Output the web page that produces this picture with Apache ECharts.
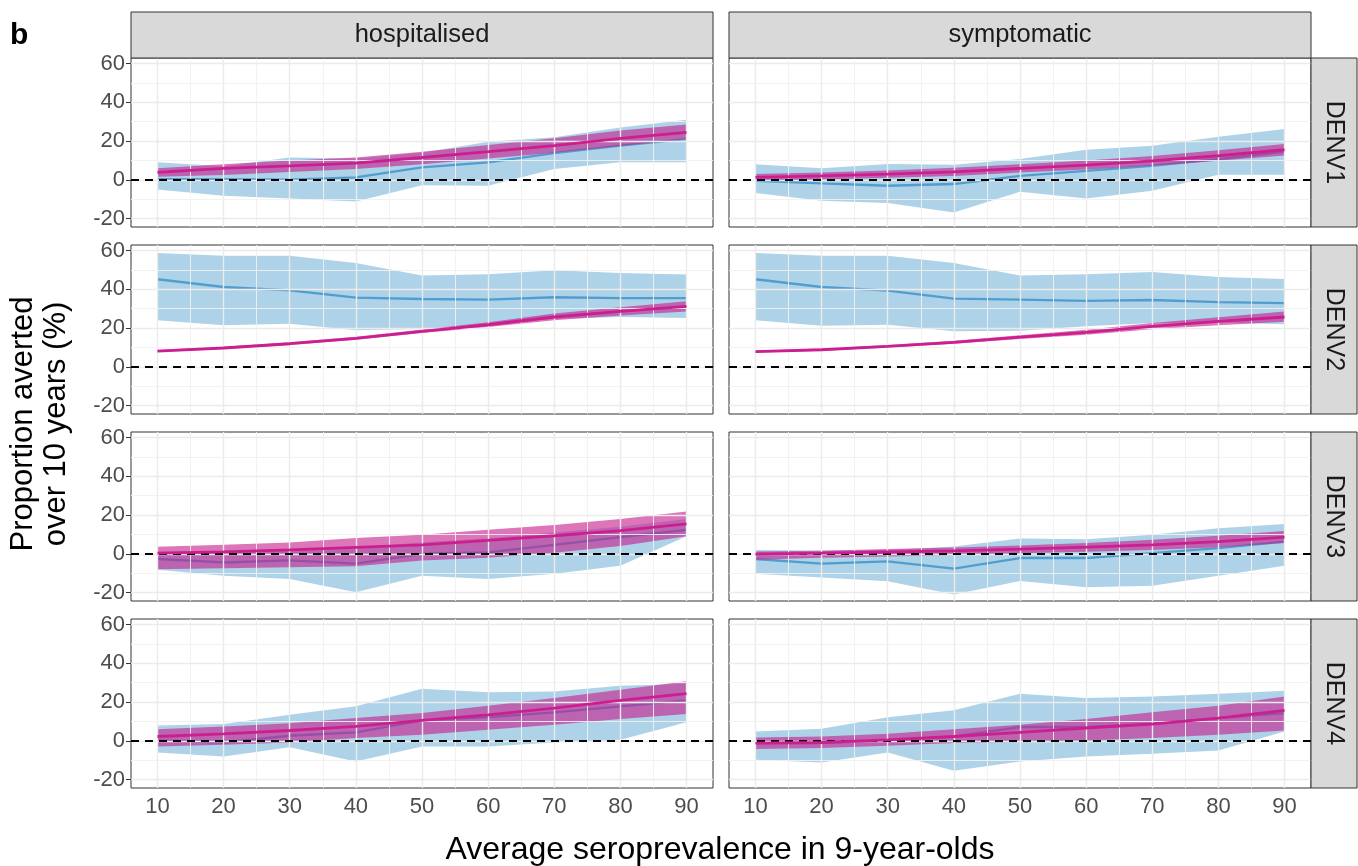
<!DOCTYPE html>
<html><head><meta charset="utf-8">
<script src="https://cdn.jsdelivr.net/npm/echarts@6/dist/echarts.min.js"></script>
<style>html,body{margin:0;padding:0;background:#fff}#c{width:1358px;height:866px}</style>
</head><body><div id="c"></div>
<script>
// ---- data ----
const xValues = [10,20,30,40,50,60,70,80,90];
const xTicks = [10,20,30,40,50,60,70,80,90];
const xMinor = [15,25,35,45,55,65,75,85];
const yTicks = [-20,0,20,40,60];
const yMinor = [-10,10,30,50];
const columns = ['hospitalised','symptomatic'];
const rows = ['DENV1','DENV2','DENV3','DENV4'];

// DENV1 hospitalised
const d1h_blueUpper = [9, 7, 11.5, 11, 14, 19.7, 22, 27, 31];
const d1h_blueLower = [-5, -8.3, -9.7, -11.2, -2.8, -3.1, 5.5, 9, 9];
const d1h_blueLine  = [0.3, 0.3, 0, 1.2, 6.4, 9, 13.8, 17.6, 21];
const d1h_pinkUpper = [6, 8, 10, 11.5, 14.5, 18, 21.5, 25.5, 28.5];
const d1h_pinkLower = [1.5, 2.5, 4, 5.5, 8, 11, 14, 17.5, 21];
const d1h_pinkLine  = [3.8, 5.9, 7.2, 8.6, 11.5, 14.5, 17.6, 21.4, 24.5];
// DENV1 symptomatic
const d1s_blueUpper = [8, 5.9, 8.1, 7.8, 10.7, 15.5, 17.6, 22.2, 26.2];
const d1s_blueLower = [-6.9, -10.9, -12, -16.9, -6.2, -9.7, -5.7, 2.6, 2.6];
const d1s_blueLine  = [-0.5, -1.9, -3.1, -2.2, 2, 4.6, 7.2, 10.7, 14.5];
const d1s_pinkUpper = [3, 3.8, 4.8, 6.2, 8, 10, 12.3, 15.2, 18.5];
const d1s_pinkLower = [-0.5, 0.2, 1, 2, 3.8, 5.3, 7.3, 9.8, 12.5];
const d1s_pinkLine  = [1.2, 2, 2.9, 4.1, 5.9, 7.6, 9.8, 12.4, 15.5];
// DENV2 hospitalised
const d2h_blueUpper = [58.8, 57.4, 57.4, 53.6, 47.2, 47.8, 49.8, 48.4, 47.6];
const d2h_blueLower = [24, 21.4, 22.2, 18.8, 19.5, 22.2, 24.7, 25.7, 25.2];
const d2h_blueLine  = [45.2, 41.2, 39.5, 35.7, 35, 34.7, 35.9, 35.5, 35.5];
const d2h_pinkUpper = [8.6, 10.3, 12.6, 15.5, 19.3, 23, 27.5, 30.8, 33.8];
const d2h_pinkLower = [7.6, 9.2, 11.3, 14, 17.4, 20.5, 24, 26.5, 28.5];
const d2h_pinkLine  = [8.1, 9.7, 11.9, 14.7, 18.3, 21.7, 25.7, 28.6, 31.2];
// DENV2 symptomatic
const d2s_blueUpper = [58.8, 57.4, 57.4, 53.6, 47.2, 47.8, 49, 46.4, 45.3];
const d2s_blueLower = [24, 21.2, 21.7, 18.3, 18.6, 20.9, 22.6, 22.9, 22];
const d2s_blueLine  = [45.2, 41.2, 39.3, 35.2, 34.7, 34, 34.5, 33.4, 32.9];
const d2s_pinkUpper = [8.3, 9.4, 11.2, 13.4, 16.3, 19.1, 22.6, 25.6, 28.6];
const d2s_pinkLower = [7.4, 8.3, 9.9, 11.9, 14.4, 16.6, 19.4, 21.5, 23.2];
const d2s_pinkLine  = [7.8, 8.8, 10.5, 12.6, 15.3, 17.8, 20.9, 23.4, 25.7];
// DENV3 hospitalised
const d3h_blueUpper = [1, 1.5, 2.5, 3, 6, 8, 11, 14, 18];
const d3h_blueLower = [-8.2, -11.3, -13, -19.9, -11.3, -13, -10.3, -6.2, 9];
const d3h_blueLine  = [-2.7, -4.5, -3.4, -5.1, 0, 0.7, 4.6, 8.6, 12.3];
const d3h_pinkUpper = [3.6, 4.6, 5.8, 8.1, 9.8, 12.4, 14.9, 18, 21.8];
const d3h_pinkLower = [-8, -7.5, -7, -6.5, -3.5, -2, 0.5, 4, 9];
const d3h_pinkLine  = [0.3, 1, 2, 3.3, 4.6, 6.9, 9.3, 12, 15.4];
// DENV3 symptomatic
const d3s_blueUpper = [2, 1.7, 2, 3.8, 7.9, 7.5, 9.8, 13.2, 15.4];
const d3s_blueLower = [-10.3, -12.2, -14.2, -21.1, -14.1, -17.3, -16.5, -11.3, -6.2];
const d3s_blueLine  = [-2.7, -5.1, -3.9, -7.7, -2.2, -2.2, 0.3, 2.9, 6.3];
const d3s_pinkUpper = [1.2, 1.5, 2.4, 3.3, 4.3, 5.5, 7.2, 9.3, 11.8];
const d3s_pinkLower = [-3.1, -2, -1.4, -0.7, 0.3, 1, 2, 3.4, 5.5];
const d3s_pinkLine  = [-0.2, 0.3, 0.9, 1.5, 2.4, 3.4, 4.6, 6.3, 8.6];
// DENV4 hospitalised
const d4h_blueUpper = [7.9, 8.6, 13.4, 17.8, 26.9, 25, 25.5, 28.4, 29.5];
const d4h_blueLower = [-6, -8.1, -3.4, -10.7, -2.9, -2.9, -0.9, 0.5, 9.5];
const d4h_blueLine  = [0.2, -0.9, 2.6, 4.3, 10.5, 12.2, 14.7, 17.8, 20.9];
const d4h_pinkUpper = [6, 7.4, 9.1, 11.7, 14.3, 18.1, 22.1, 26.4, 30.7];
const d4h_pinkLower = [-2.9, -2.1, -0.9, 1.4, 3.1, 5.7, 8.3, 11.2, 13.8];
const d4h_pinkLine  = [2.2, 3.6, 5.3, 7.4, 10.5, 13.4, 16.9, 20.9, 24.3];
// DENV4 symptomatic
const d4s_blueUpper = [4.8, 6.2, 12.2, 15.7, 24.3, 22.1, 22.9, 24.3, 25.9];
const d4s_blueLower = [-9.8, -11.2, -6, -15.5, -10.7, -8.1, -6.7, -5, 4.8];
const d4s_blueLine  = [-1.2, -1.2, 0.2, 2.2, 7.1, 7.1, 8.8, 11.7, 14.3];
const d4s_pinkUpper = [1.7, 2.2, 3.6, 6, 8.3, 11.2, 14.7, 18.1, 22.9];
const d4s_pinkLower = [-4.3, -3.8, -2.6, -1.2, -0.7, 0.2, 1.4, 3.1, 5.3];
const d4s_pinkLine  = [-1.2, -0.9, 0.5, 2.2, 4.3, 6.6, 8.6, 11.7, 15.7];

// ---- layout / style ----
const FONT = '"Liberation Sans", Arial, Helvetica, sans-serif';
const colLeft = [131, 729];
const rowTop = [58, 245, 432, 619];
const panelW = 582, panelH = 169;
const stripH = 46, stripTop = 12, stripRightX = 1311;
const X_MIN = 6, X_MAX = 94, Y_MIN = -24.4, Y_MAX = 62.9;
const BLUE_FILL = 'rgba(107,174,214,0.55)';
const PINK_FILL = 'rgba(197,27,138,0.6)';

const panels = [
  {r:0,c:0,bu:d1h_blueUpper,bl:d1h_blueLower,b:d1h_blueLine,pu:d1h_pinkUpper,pl:d1h_pinkLower,p:d1h_pinkLine},
  {r:0,c:1,bu:d1s_blueUpper,bl:d1s_blueLower,b:d1s_blueLine,pu:d1s_pinkUpper,pl:d1s_pinkLower,p:d1s_pinkLine},
  {r:1,c:0,bu:d2h_blueUpper,bl:d2h_blueLower,b:d2h_blueLine,pu:d2h_pinkUpper,pl:d2h_pinkLower,p:d2h_pinkLine},
  {r:1,c:1,bu:d2s_blueUpper,bl:d2s_blueLower,b:d2s_blueLine,pu:d2s_pinkUpper,pl:d2s_pinkLower,p:d2s_pinkLine},
  {r:2,c:0,bu:d3h_blueUpper,bl:d3h_blueLower,b:d3h_blueLine,pu:d3h_pinkUpper,pl:d3h_pinkLower,p:d3h_pinkLine},
  {r:2,c:1,bu:d3s_blueUpper,bl:d3s_blueLower,b:d3s_blueLine,pu:d3s_pinkUpper,pl:d3s_pinkLower,p:d3s_pinkLine},
  {r:3,c:0,bu:d4h_blueUpper,bl:d4h_blueLower,b:d4h_blueLine,pu:d4h_pinkUpper,pl:d4h_pinkLower,p:d4h_pinkLine},
  {r:3,c:1,bu:d4s_blueUpper,bl:d4s_blueLower,b:d4s_blueLine,pu:d4s_pinkUpper,pl:d4s_pinkLower,p:d4s_pinkLine}
];

const grids = [], xAxes = [], yAxes = [], series = [];
const pairs = arr => xValues.map((x,k) => [x, arr[k]]);
const gridLines = [];
xTicks.forEach(v => gridLines.push({xAxis:v, lineStyle:{color:'#ebebeb', width:1.4, type:'solid'}}));
xMinor.forEach(v => gridLines.push({xAxis:v, lineStyle:{color:'#f0f0f0', width:0.9, type:'solid'}}));
yTicks.forEach(v => gridLines.push({yAxis:v, lineStyle:{color:'#ebebeb', width:1.4, type:'solid'}}));
yMinor.forEach(v => gridLines.push({yAxis:v, lineStyle:{color:'#f0f0f0', width:0.9, type:'solid'}}));

function bandSeries(i, lower, upper, fill, z) {
  return {
    type:'custom', xAxisIndex:i, yAxisIndex:i, silent:true, animation:false, z:z,
    data: xValues.map((x,k) => [x, lower[k], upper[k]]),
    encode:{x:0, y:[1,2]},
    renderItem: function(params, api) {
      if (params.dataIndex !== 0) return null;
      const pts = [];
      for (let k = 0; k < xValues.length; k++) pts.push(api.coord([xValues[k], upper[k]]));
      for (let k = xValues.length - 1; k >= 0; k--) pts.push(api.coord([xValues[k], lower[k]]));
      return {type:'polygon', shape:{points:pts}, style:{fill:fill, stroke:null}};
    }
  };
}

panels.forEach((p,i) => {
  grids.push({left:colLeft[p.c], top:rowTop[p.r], width:panelW, height:panelH,
    show:true, borderColor:'#333', borderWidth:1, backgroundColor:'#fff'});
  xAxes.push({gridIndex:i, type:'value', min:X_MIN, max:X_MAX,
    axisLine:{show:false}, splitLine:{show:false},
    axisTick:{show:p.r===3, customValues:xTicks, length:5, lineStyle:{color:'#333', width:1}},
    axisLabel:{show:p.r===3, customValues:xTicks, color:'#4d4d4d', fontSize:22, margin:8, fontFamily:FONT}});
  yAxes.push({gridIndex:i, type:'value', min:Y_MIN, max:Y_MAX,
    axisLine:{show:false}, splitLine:{show:false},
    axisTick:{show:p.c===0, customValues:yTicks, length:5, lineStyle:{color:'#333', width:1}},
    axisLabel:{show:p.c===0, customValues:yTicks, color:'#4d4d4d', fontSize:22, margin:6, fontFamily:FONT}});
  const common = {type:'line', xAxisIndex:i, yAxisIndex:i, symbol:'none', showSymbol:false, silent:true, animation:false};
  // background grid lines (invisible carrier series)
  series.push(Object.assign({}, common, {data:pairs(p.b), z:1, lineStyle:{opacity:0, width:0},
    markLine:{symbol:'none', silent:true, animation:false, label:{show:false}, data:gridLines}}));
  series.push(bandSeries(i, p.bl, p.bu, BLUE_FILL, 2));
  series.push(Object.assign({}, common, {data:pairs(p.b), z:3, lineStyle:{color:'#529dd0', width:2.3}}));
  series.push(bandSeries(i, p.pl, p.pu, PINK_FILL, 4));
  series.push(Object.assign({}, common, {data:pairs(p.p), z:5, lineStyle:{color:'#cc1f8f', width:2.8}}));
  // zero reference line on top
  series.push(Object.assign({}, common, {data:pairs(p.p), z:6, lineStyle:{opacity:0, width:0},
    markLine:{symbol:'none', silent:true, animation:false, label:{show:false},
      data:[{yAxis:0, lineStyle:{color:'#000', width:2, type:[8,6]}}]}}));
});

const graphic = [];
columns.forEach((name,c) => {
  graphic.push({type:'rect', shape:{x:colLeft[c], y:stripTop, width:panelW, height:stripH},
    style:{fill:'#d9d9d9', stroke:'#333', lineWidth:1}, z:10});
  graphic.push({type:'text', x:colLeft[c]+panelW/2, y:stripTop+stripH/2, z:11,
    style:{text:name, font:'25.5px '+FONT, fill:'#1a1a1a', align:'center', verticalAlign:'middle', textAlign:'center', textVerticalAlign:'middle'}});
});
rows.forEach((name,r) => {
  graphic.push({type:'rect', shape:{x:stripRightX, y:rowTop[r], width:stripH, height:panelH},
    style:{fill:'#d9d9d9', stroke:'#333', lineWidth:1}, z:10});
  graphic.push({type:'text', x:stripRightX+stripH/2, y:rowTop[r]+panelH/2, rotation:-Math.PI/2, z:11,
    style:{text:name, font:'25px '+FONT, fill:'#1a1a1a', align:'center', verticalAlign:'middle', textAlign:'center', textVerticalAlign:'middle'}});
});
graphic.push({type:'text', x:720, y:850, z:11,
  style:{text:'Average seroprevalence in 9-year-olds', font:'32px '+FONT, fill:'#000', align:'center', verticalAlign:'middle', textAlign:'center', textVerticalAlign:'middle'}});
graphic.push({type:'text', x:40, y:424, rotation:Math.PI/2, z:11,
  style:{text:'Proportion averted\nover 10 years (%)', font:'31px '+FONT, lineHeight:33, fill:'#000', align:'center', verticalAlign:'middle', textAlign:'center', textVerticalAlign:'middle'}});
graphic.push({type:'text', x:10, y:36, z:11,
  style:{text:'b', font:'bold 30px '+FONT, fill:'#000', align:'left', verticalAlign:'middle', textAlign:'left', textVerticalAlign:'middle'}});

const chart = echarts.init(document.getElementById('c'), null, {renderer:'canvas'});
chart.setOption({animation:false, backgroundColor:'#fff', grid:grids, xAxis:xAxes, yAxis:yAxes, series:series, graphic:graphic});
</script></body></html>
